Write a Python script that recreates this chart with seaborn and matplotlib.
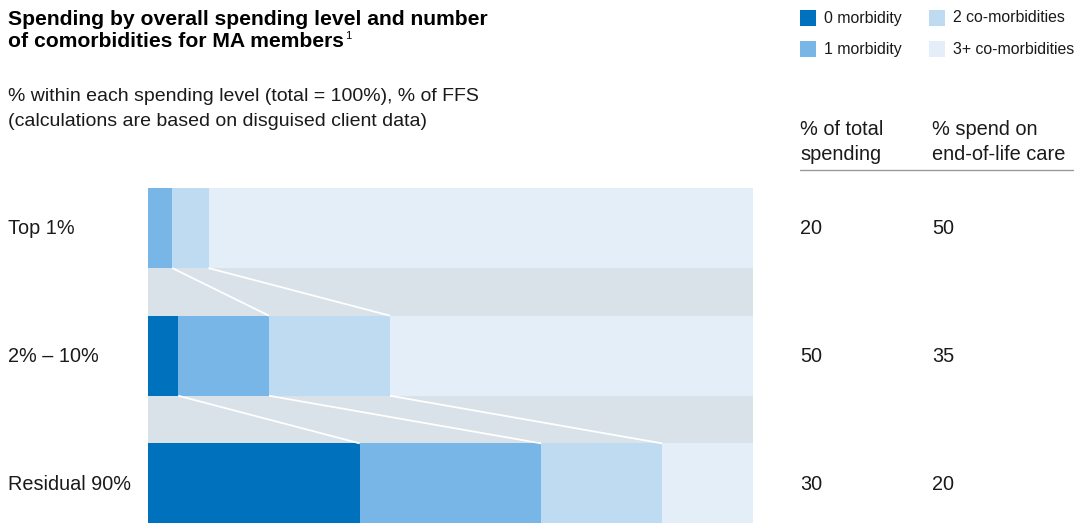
import matplotlib
matplotlib.use("Agg")
import matplotlib.pyplot as plt
from matplotlib.patches import Rectangle
from matplotlib.lines import Line2D
import seaborn as sns
import numpy as np
import pandas as pd

# ---- data ----
levels = ["Top 1%", "2% – 10%", "Residual 90%"]
categories = ["0 morbidity", "1 morbidity", "2 co-morbidities", "3+ co-morbidities"]
zero_morb = [0, 5, 35]
one_morb = [4, 15, 30]
two_comorb = [6, 20, 20]
three_plus = [90, 60, 15]
pct_total_spending = [20, 50, 30]
pct_end_of_life = [50, 35, 20]

colors = ["#0071bc", "#77b6e6", "#bedbf2", "#e3eef9"]
band_color = "#d8e2e8"
text_color = "#1a1a1a"

sns.set_theme(style="white")
plt.rcParams["font.family"] = ["Liberation Sans", "DejaVu Sans"]

W, H = 1076, 523
fig = plt.figure(figsize=(W / 100, H / 100), dpi=100)

def fx(x):
    return x / W

def fy(y):
    return 1 - y / H

# bar axes placed in figure pixel space
bar_h = 0.627
ylim_top = -bar_h / 2
ylim_bot = 2.31
ax_top_px, ax_bot_px = 188, 523
ax = fig.add_axes([fx(148), fy(ax_bot_px), (753 - 148) / W, (ax_bot_px - ax_top_px) / H])

vals = np.array([zero_morb, one_morb, two_comorb, three_plus], dtype=float)
cum = np.cumsum(vals, axis=0)

# gray connecting band behind bars
ax.axhspan(0, 2, color=band_color, zorder=0, lw=0)

df = pd.DataFrame({"level": levels})
for k in range(3, -1, -1):
    df["cum"] = cum[k]
    sns.barplot(data=df, x="cum", y="level", order=levels, color=colors[k],
                width=bar_h, orient="h", ax=ax, saturation=1, zorder=2, linewidth=0)

# white connector lines between boundaries
for i in range(len(levels) - 1):
    for k in range(3):
        x0 = cum[k][i]
        x1 = cum[k][i + 1]
        if x0 <= 0:
            continue
        ax.plot([x0, x1], [i + bar_h / 2, i + 1 - bar_h / 2], color="white", lw=1.3,
                zorder=3, solid_capstyle="butt")

ax.set_xlim(0, 100)
ax.set_ylim(ylim_bot, ylim_top)
ax.axis("off")

# ---- texts ----
row_y = [229, 356, 484]
for lab, y, a, b in zip(levels, row_y, pct_total_spending, pct_end_of_life):
    fig.text(fx(8), fy(y), lab, fontsize=14.3, color=text_color, va="center", ha="left")
    fig.text(fx(800), fy(y), str(a), fontsize=14.3, color=text_color, va="center", ha="left")
    fig.text(fx(932), fy(y), str(b), fontsize=14.3, color=text_color, va="center", ha="left")

# title
fig.text(fx(8), fy(25), "Spending by overall spending level and number", fontsize=15.2,
         fontweight="bold", color="black", va="baseline", ha="left")
t2 = fig.text(fx(8), fy(47), "of comorbidities for MA members", fontsize=15.2,
              fontweight="bold", color="black", va="baseline", ha="left")
fig.canvas.draw()
bb = t2.get_window_extent()
fig.text(bb.x1 / W + 1 / W, fy(39), "1", fontsize=8, color="black", va="baseline", ha="left")

# subtitle
fig.text(fx(8), fy(101), "% within each spending level (total = 100%), % of FFS", fontsize=14,
         color=text_color, va="baseline", ha="left")
fig.text(fx(8), fy(126), "(calculations are based on disguised client data)", fontsize=14,
         color=text_color, va="baseline", ha="left")

# column headers
fig.text(fx(800), fy(135), "% of total", fontsize=14.4, color=text_color, va="baseline")
fig.text(fx(800), fy(160), "spending", fontsize=14.4, color=text_color, va="baseline")
fig.text(fx(932), fy(135), "% spend on", fontsize=14.4, color=text_color, va="baseline")
fig.text(fx(932), fy(160), "end-of-life care", fontsize=14.4, color=text_color, va="baseline")
fig.add_artist(Line2D([fx(800), fx(1073)], [fy(170), fy(170)], color="#9a9a9a", lw=1,
                      transform=fig.transFigure))

# legend
leg_pos = [(800, 10), (800, 41), (929, 10), (929, 41)]
for (lx, ly), c, name in zip(leg_pos, colors, categories):
    fig.add_artist(Rectangle((fx(lx), fy(ly + 15.5)), 16 / W, 15.5 / H, color=c, lw=0,
                             transform=fig.transFigure))
    fig.text(fx(lx + 24), fy(ly + 8), name, fontsize=11.4, color=text_color, va="center", ha="left")

fig.savefig("out.png", dpi=100)
